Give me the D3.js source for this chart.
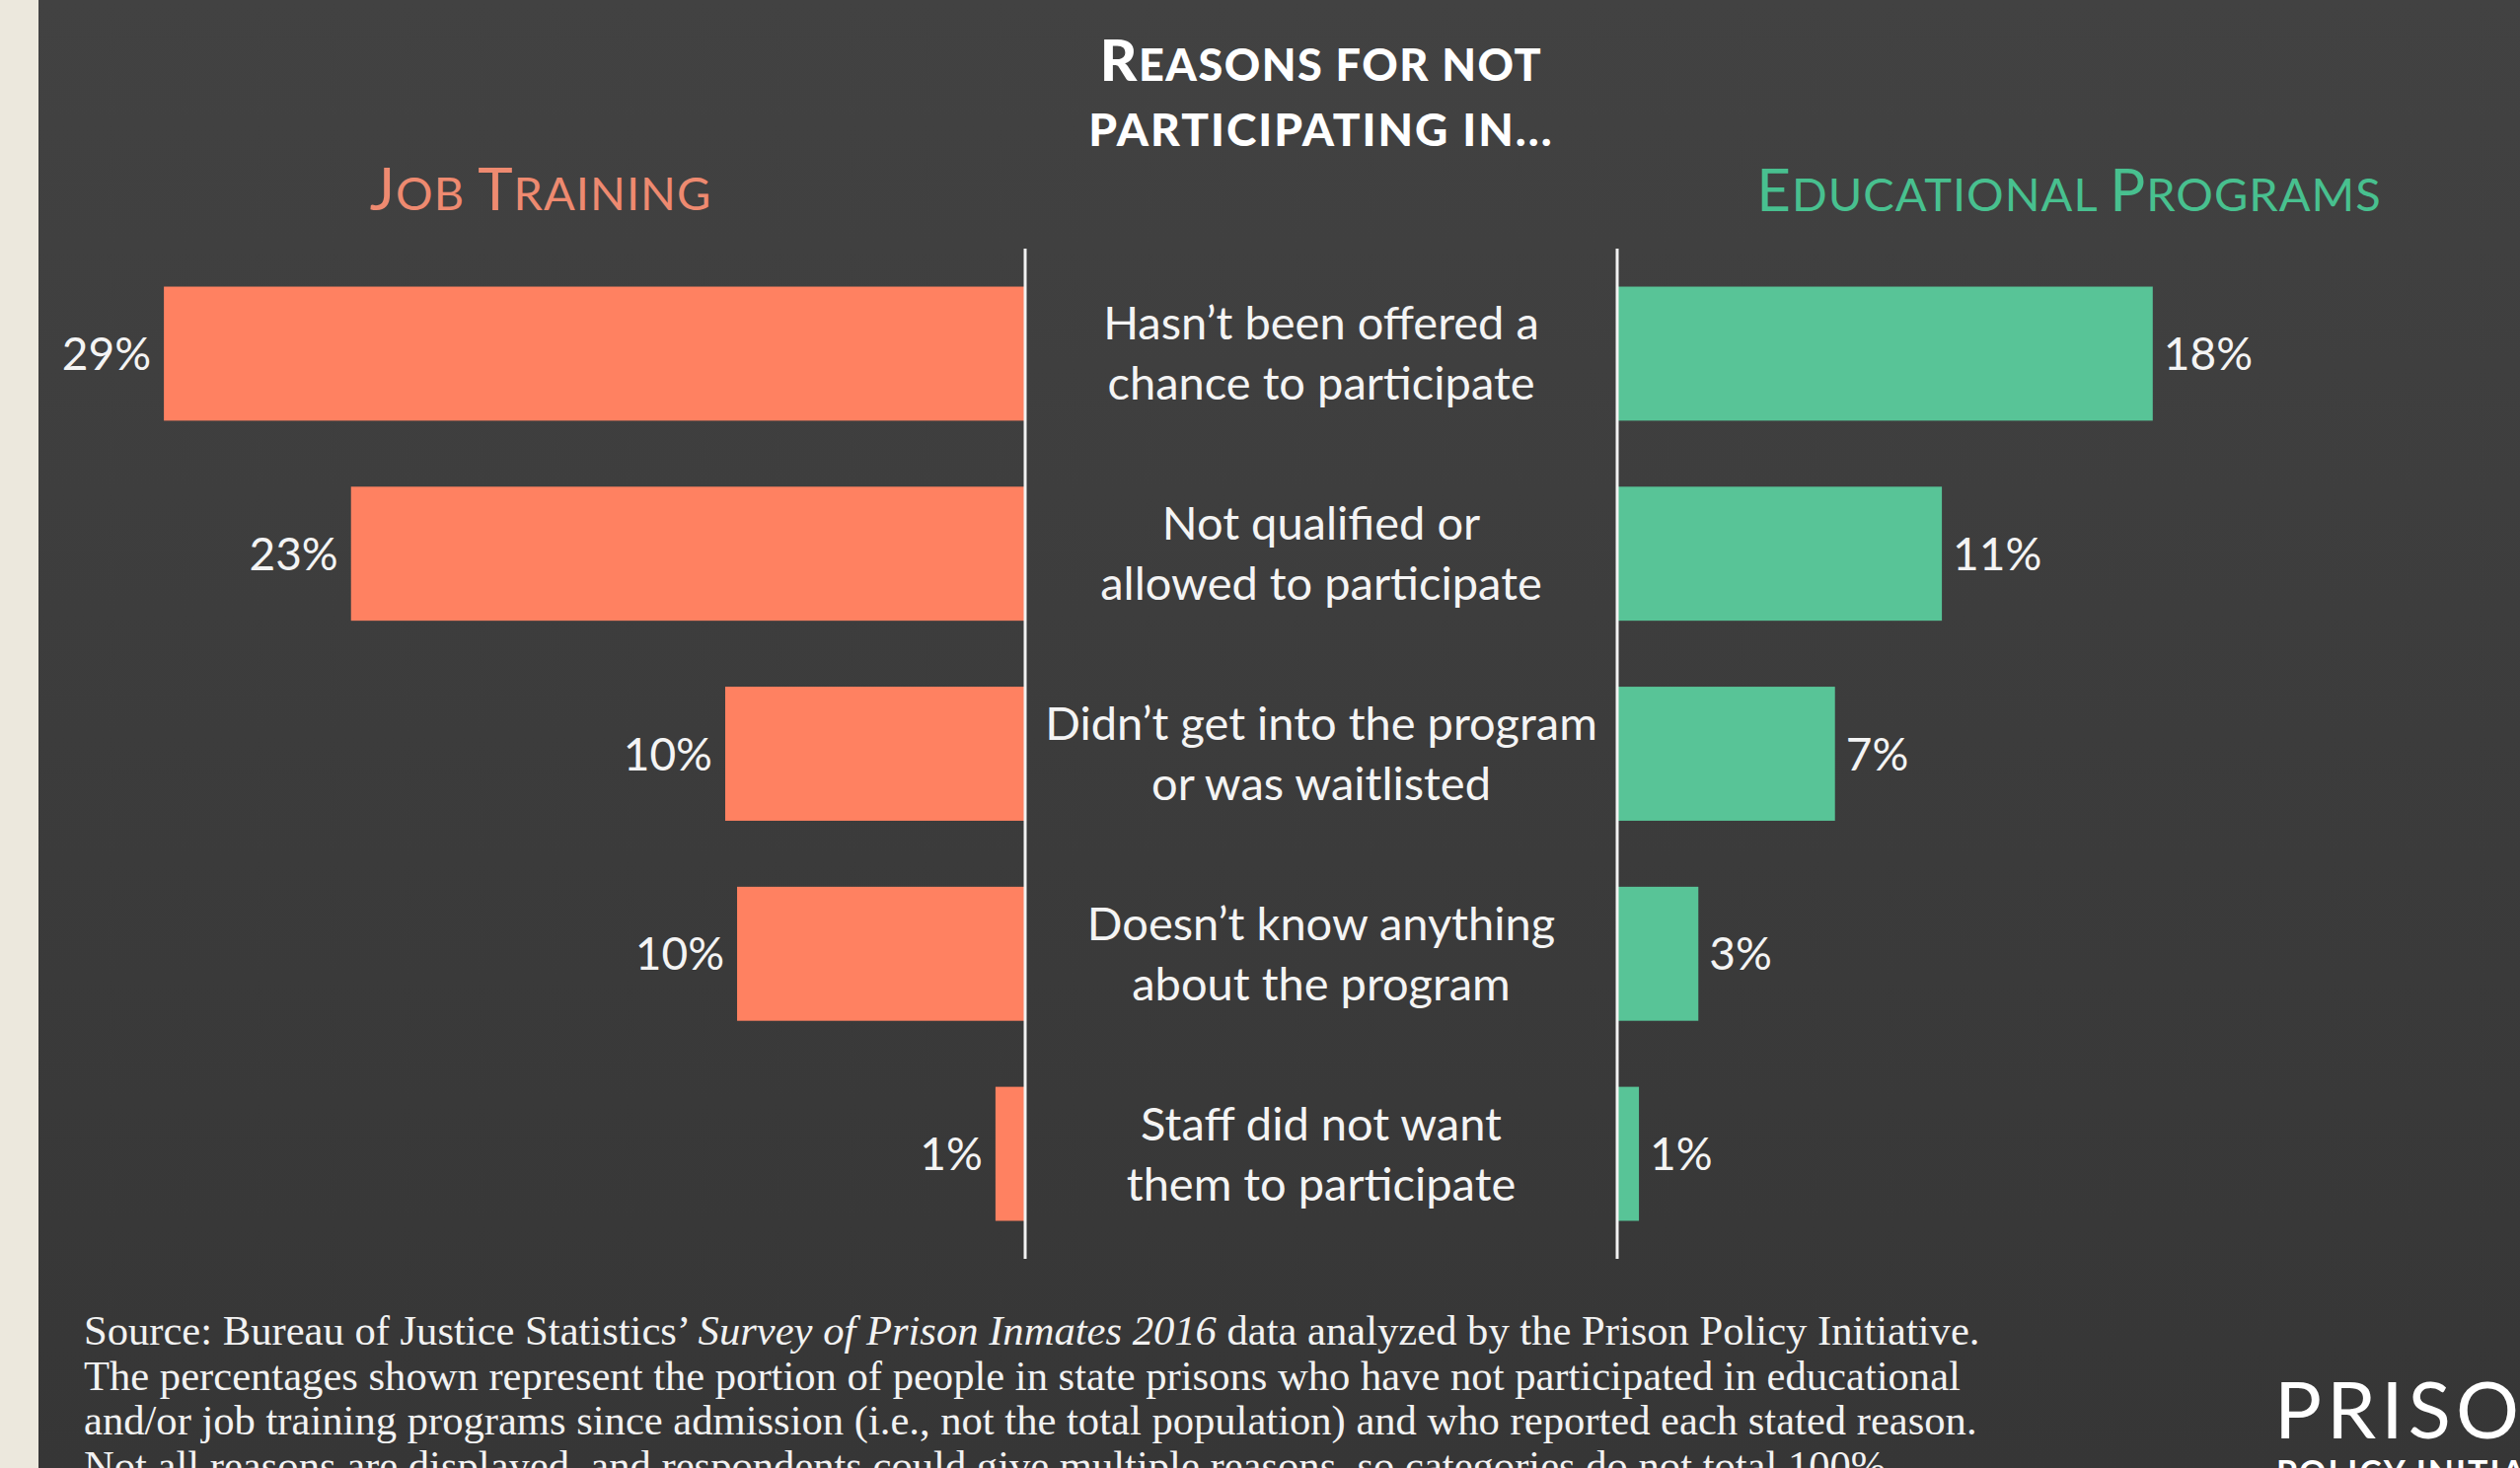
<!DOCTYPE html>
<html>
<head>
<meta charset="utf-8">
<script src="https://cdn.jsdelivr.net/npm/d3@7"></script>
<style>
  body { margin: 0; overflow: hidden; background: #ece8dd; }
  svg { display: block; }
</style>
</head>
<body>
<div id="chart"></div>
<script>
const width = 2554;
const height = 1488;

// reasons, top to bottom (two lines each)
const reasons = [
  ["Hasn’t been offered a", "chance to participate"],
  ["Not qualified or", "allowed to participate"],
  ["Didn’t get into the program", "or was waitlisted"],
  ["Doesn’t know anything", "about the program"],
  ["Staff did not want", "them to participate"]
];
// percent of respondents
const jobTraining = [29, 22.7, 10.1, 9.7, 1.0];
const educational = [18, 10.9, 7.3, 2.7, 0.7];

const sourceLines = [
  [["Source: Bureau of Justice Statistics’ ", false], ["Survey of Prison Inmates 2016", true], [" data analyzed by the Prison Policy Initiative.", false]],
  [["The percentages shown represent the portion of people in state prisons who have not participated in educational", false]],
  [["and/or job training programs since admission (i.e., not the total population) and who reported each stated reason.", false]],
  [["Not all reasons are displayed, and respondents could give multiple reasons, so categories do not total 100%.", false]]
];

const salmon = "#ff8161";
const green = "#58c497";
const sans = "Lato, 'Open Sans', sans-serif";

const svg = d3.select("#chart")
  .append("svg")
  .attr("width", width)
  .attr("height", height);

const defs = svg.append("defs");
const grad = defs.append("linearGradient")
  .attr("id", "bg")
  .attr("x1", 0).attr("y1", 0).attr("x2", 0).attr("y2", 1);
grad.append("stop").attr("offset", "0%").attr("stop-color", "#424242");
grad.append("stop").attr("offset", "100%").attr("stop-color", "#363636");

// beige strip + dark panel
svg.append("rect").attr("width", width).attr("height", height).attr("fill", "#ece8dd");
svg.append("rect")
  .attr("x", 39).attr("width", width - 39).attr("height", height)
  .attr("fill", "url(#bg)");

const y = d3.scaleBand()
  .domain(d3.range(reasons.length))
  .range([252, 1276])
  .paddingInner(0.33)
  .paddingOuter(0.19);

const leftAxis = 1039;
const rightAxis = 1639;
const xL = d3.scaleLinear().domain([0, 30]).range([leftAxis, leftAxis - 903]);
const xR = d3.scaleLinear().domain([0, 30]).range([rightAxis + 1, rightAxis + 904]);
const pct = v => `${Math.round(v)}%`;

// job training bars (grow to the left)
svg.selectAll(".job")
  .data(jobTraining)
  .join("rect")
    .attr("class", "job")
    .attr("x", d => xL(d))
    .attr("y", (d, i) => y(i))
    .attr("width", d => xL(0) - xL(d))
    .attr("height", y.bandwidth())
    .attr("fill", salmon);

svg.selectAll(".job-label")
  .data(jobTraining)
  .join("text")
    .attr("class", "job-label")
    .attr("x", d => xL(d) - 13)
    .attr("y", (d, i) => y(i) + y.bandwidth() / 2)
    .attr("dy", "0.36em")
    .attr("text-anchor", "end")
    .style("font-family", sans)
    .style("font-size", "46px")
    .style("fill", "#f4f4f4")
    .text(pct);

// educational bars (grow to the right)
svg.selectAll(".edu")
  .data(educational)
  .join("rect")
    .attr("class", "edu")
    .attr("x", xR(0))
    .attr("y", (d, i) => y(i))
    .attr("width", d => xR(d) - xR(0))
    .attr("height", y.bandwidth())
    .attr("fill", green);

svg.selectAll(".edu-label")
  .data(educational)
  .join("text")
    .attr("class", "edu-label")
    .attr("x", d => xR(d) + 11)
    .attr("y", (d, i) => y(i) + y.bandwidth() / 2)
    .attr("dy", "0.36em")
    .style("font-family", sans)
    .style("font-size", "46px")
    .style("fill", "#f4f4f4")
    .text(pct);

// the two white axis lines
svg.selectAll(".axis")
  .data([leftAxis, rightAxis])
  .join("line")
    .attr("class", "axis")
    .attr("x1", d => d).attr("x2", d => d)
    .attr("y1", y.range()[0]).attr("y2", y.range()[1])
    .style("stroke", "#f2f2f2")
    .style("stroke-width", 3);

// reason labels in the middle
const mid = (leftAxis + rightAxis) / 2;
const reasonText = svg.selectAll(".reason")
  .data(reasons)
  .join("text")
    .attr("class", "reason")
    .attr("text-anchor", "middle")
    .style("font-family", sans)
    .style("font-size", "47px")
    .style("fill", "#f4f4f4");

reasonText.selectAll("tspan")
  .data((d, i) => d.map((line, j) => ({ line, j, i })))
  .join("tspan")
    .attr("x", mid)
    .attr("y", d => y(d.i) + y.bandwidth() / 2 + (d.j === 0 ? -14 : 47))
    .text(d => d.line);

// small caps helper: big first letters, smaller rest
function smallCaps(sel, words, big, small) {
  words.forEach(([first, rest], k) => {
    if (first !== null) sel.append("tspan").style("font-size", big + "px").text(first);
    sel.append("tspan").style("font-size", small + "px")
      .text(rest.toUpperCase() + (k < words.length - 1 ? " " : ""));
  });
}

const title1 = svg.append("text")
  .attr("x", mid).attr("y", 82)
  .attr("text-anchor", "middle")
  .style("font-family", sans).style("font-weight", 900)
  .style("fill", "#ffffff").style("letter-spacing", "1.5px");
smallCaps(title1, [["R", "easons"], [null, "for"], [null, "not"]], 58, 45);

const title2 = svg.append("text")
  .attr("x", mid).attr("y", 148)
  .attr("text-anchor", "middle")
  .style("font-family", sans).style("font-weight", 900)
  .style("fill", "#ffffff").style("letter-spacing", "2px");
smallCaps(title2, [[null, "participating"], [null, "in..."]], 58, 46);

const headJob = svg.append("text")
  .attr("x", 548).attr("y", 213)
  .attr("text-anchor", "middle")
  .style("font-family", sans)
  .style("fill", "#ee8a70").style("letter-spacing", "1px");
smallCaps(headJob, [["J", "ob"], ["T", "raining"]], 60, 47);

const headEdu = svg.append("text")
  .attr("x", 2097).attr("y", 214)
  .attr("text-anchor", "middle")
  .style("font-family", sans)
  .style("fill", "#48c08f").style("letter-spacing", "1px");
smallCaps(headEdu, [["E", "ducational"], ["P", "rograms"]], 60, 47);

// source note
const note = svg.append("g");
sourceLines.forEach((parts, i) => {
  const t = note.append("text")
    .attr("x", 85).attr("y", 1363 + i * 45.5)
    .style("font-family", "'Liberation Serif', 'DejaVu Serif', serif")
    .style("font-size", "42.6px")
    .style("fill", "#f2f2f2");
  parts.forEach(([s, it]) => {
    t.append("tspan").style("font-style", it ? "italic" : "normal").text(s);
  });
});

// logo, cut by the right edge
svg.append("text")
  .attr("x", 2305).attr("y", 1458)
  .style("font-family", sans).style("font-size", "80px")
  .style("letter-spacing", "5px")
  .style("fill", "#ffffff")
  .text("PRISON");
svg.append("text")
  .attr("x", 2307).attr("y", 1505)
  .style("font-family", sans).style("font-size", "34px").style("font-weight", 700)
  .style("letter-spacing", "2px")
  .style("fill", "#ffffff")
  .text("POLICY INITIATIVE");
</script>
</body>
</html>
